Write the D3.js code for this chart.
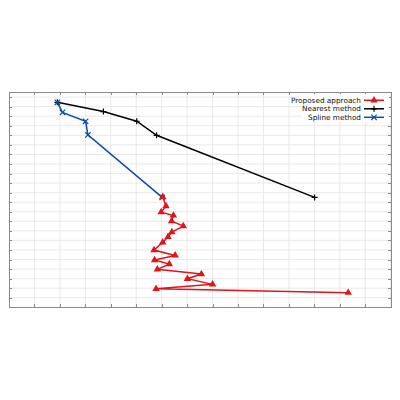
<!DOCTYPE html>
<html lang="en">
  <head>
    <meta charset="UTF-8" />
    <title>Method comparison</title>
    <script src="https://d3js.org/d3.v7.min.js"></script>
    <style>
      body { margin: 0; background: #fff; }
      .grid line { stroke: #e3e3e3; stroke-width: 0.8; }
      .axis path, .axis line { stroke: #8a8a8a; shape-rendering: crispEdges; }
      .legend text { font-family: "DejaVu Sans", sans-serif; font-size: 7.3px; fill: #111; }
    </style>
  </head>
  <body>
    <div id="chart"></div>
    <script>
      // series
      const proposedX = [6.04, 6.17, 5.98, 6.46, 6.39, 6.85, 6.40, 6.25, 6.04, 5.70, 6.53, 5.72, 6.30, 5.83, 7.56, 7.01, 8.00, 5.78, 13.33];
      const proposedY = [11.56, 10.59, 9.96, 9.61, 9.02, 8.50, 7.87, 7.38, 6.79, 5.99, 5.43, 4.94, 4.52, 3.97, 3.48, 2.99, 2.40, 1.94, 1.53];
      const nearestX = [1.90, 3.71, 5.02, 5.80, 12.01];
      const nearestY = [21.45, 20.48, 19.47, 18.0, 11.5];
      const splineX = [1.90, 2.10, 3.01, 3.10, 6.02];
      const splineY = [21.45, 20.4, 19.47, 18.04, 11.5];
      const xTicks = d3.range(0, 16);
      const yTicks = d3.range(1, 23);
      const legendLabels = ["Proposed approach", "Nearest method", "Spline   method"];

      const width = 400, height = 400;
      const plotLeft = 9, plotRight = 390.7, plotTop = 92.3, plotBottom = 307.3;

      const svg = d3.select("#chart").append("svg").attr("width", width).attr("height", height);

      const x = d3.scaleLinear().domain([0, 15]).range([plotLeft, plotRight]);
      const y = d3.scaleLinear().domain([0, 22.5]).range([plotBottom, plotTop]);

      // grid
      const grid = svg.append("g").attr("class", "grid");
      grid.selectAll(".gx").data(xTicks.slice(1)).enter().append("line")
        .attr("x1", (d) => x(d)).attr("x2", (d) => x(d)).attr("y1", plotTop).attr("y2", plotBottom);
      grid.selectAll(".gy").data(yTicks).enter().append("line")
        .attr("y1", (d) => y(d)).attr("y2", (d) => y(d)).attr("x1", plotLeft).attr("x2", plotRight);

      // axes, ticks inward, no labels
      const tick = 3;
      svg.append("g").attr("class", "axis").attr("transform", `translate(0,${plotBottom})`)
        .call(d3.axisTop(x).tickValues(xTicks).tickSize(tick).tickFormat(""));
      svg.append("g").attr("class", "axis").attr("transform", `translate(0,${plotTop})`)
        .call(d3.axisBottom(x).tickValues(xTicks).tickSize(tick).tickFormat(""));
      svg.append("g").attr("class", "axis").attr("transform", `translate(${plotLeft},0)`)
        .call(d3.axisRight(y).tickValues(yTicks).tickSize(tick).tickFormat(""));
      svg.append("g").attr("class", "axis").attr("transform", `translate(${plotRight},0)`)
        .call(d3.axisLeft(y).tickValues(yTicks).tickSize(tick).tickFormat(""));

      const line = d3.line().x((d) => x(d[0])).y((d) => y(d[1]));
      const series = [
        { xs: proposedX, ys: proposedY, color: "#e0141a", marker: "tri" },
        { xs: nearestX, ys: nearestY, color: "#000000", marker: "plus" },
        { xs: splineX, ys: splineY, color: "#0a4fa3", marker: "cross" },
      ];

      function marker(g, type, color) {
        if (type === "tri") {
          g.append("path").attr("d", d3.symbol(d3.symbolTriangle, 24)()).attr("fill", color);
        } else if (type === "plus") {
          g.append("path").attr("d", "M-3,0H3M0,-3V3").attr("stroke", color).attr("stroke-width", 1.2);
        } else {
          g.append("path").attr("d", "M-2.7,-2.7L2.7,2.7M-2.7,2.7L2.7,-2.7").attr("stroke", color).attr("stroke-width", 1.2);
        }
      }

      // draw nearest first, then spline, then proposed
      [series[1], series[2], series[0]].forEach((s) => {
        const pts = s.xs.map((v, i) => [v, s.ys[i]]);
        svg.append("path").datum(pts).attr("d", line)
          .attr("fill", "none").attr("stroke", s.color).attr("stroke-width", 1.5);
        pts.forEach((p) => {
          const g = svg.append("g").attr("transform", `translate(${x(p[0])},${y(p[1])})`);
          marker(g, s.marker, s.color);
        });
      });

      // legend
      const legend = svg.append("g").attr("class", "legend");
      legend.append("rect").attr("x", 301).attr("y", 94).attr("width", 88).attr("height", 28).attr("fill", "#fff");
      legendLabels.forEach((lab, i) => {
        const ly = 100.3 + i * 8.5;
        const s = series[i];
        legend.append("text").attr("x", 361).attr("y", ly + 2.5).attr("text-anchor", "end").text(lab);
        legend.append("line").attr("x1", 364).attr("x2", 384).attr("y1", ly).attr("y2", ly)
          .attr("stroke", s.color).attr("stroke-width", 1.5);
        const g = legend.append("g").attr("transform", `translate(374,${ly})`);
        marker(g, s.marker, s.color);
      });
    </script>
  </body>
</html>
